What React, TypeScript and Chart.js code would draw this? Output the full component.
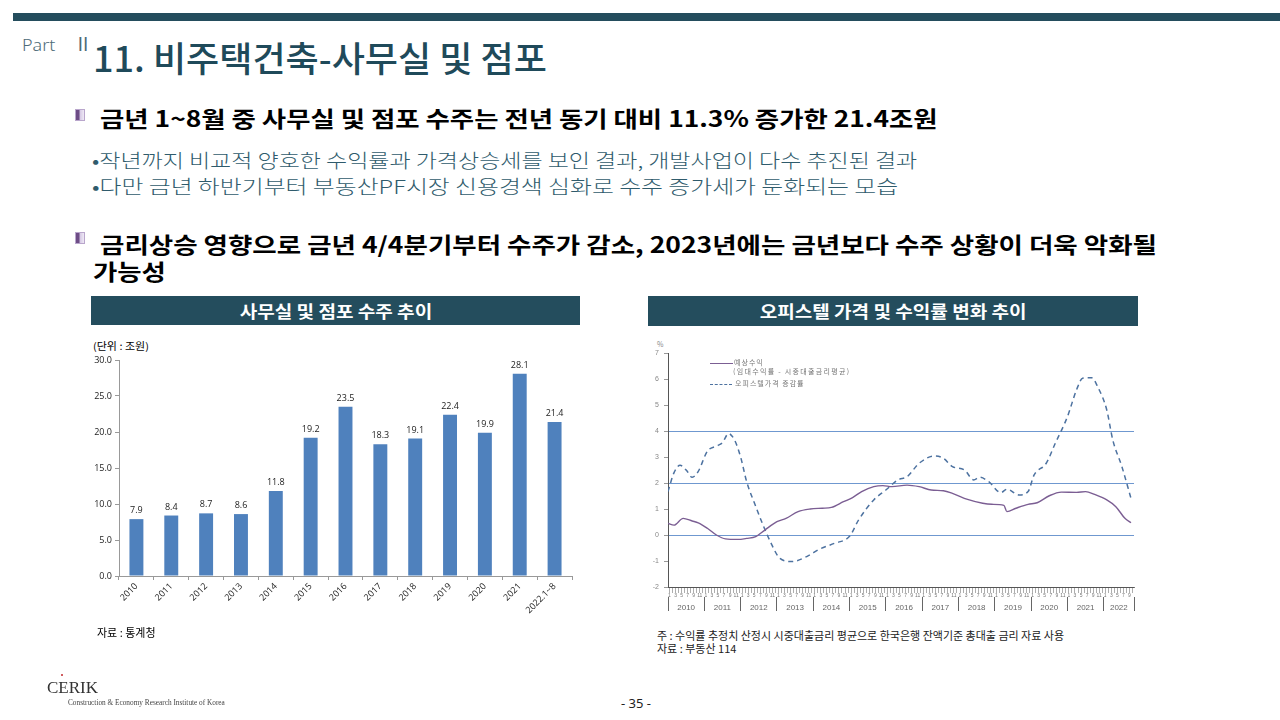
import React, { useEffect, useRef } from 'react';
import { Chart, registerables } from 'chart.js';

Chart.register(...registerables);

// ---------- Left chart: 사무실 및 점포 수주 추이 (조원) ----------
const barCategories = ['2010', '2011', '2012', '2013', '2014', '2015', '2016', '2017', '2018', '2019', '2020', '2021', '2022.1~8'];
const barValues = [7.9, 8.4, 8.7, 8.6, 11.8, 19.2, 23.5, 18.3, 19.1, 22.4, 19.9, 28.1, 21.4];

// ---------- Right chart: 오피스텔 가격 및 수익률 변화 추이 (%) ----------
// x = months elapsed since Jan 2010
const yearLabels = ['2010', '2011', '2012', '2013', '2014', '2015', '2016', '2017', '2018', '2019', '2020', '2021', '2022'];
const monthLabelsOdd = ['1', '3', '5', '7', '9', '11'];
const expectedMonths = [0, 2, 5, 8, 10, 13, 16, 19, 23, 26, 29, 32, 36, 39, 43, 47, 51, 54, 58, 61, 64, 68, 71, 74, 79, 83, 87, 91, 94, 99, 104, 107, 111, 112, 115, 119, 122, 126, 130, 135, 138, 141, 145, 148, 151, 153];
const expectedValues = [0.45, 0.38, 0.64, 0.54, 0.47, 0.26, 0.0, -0.15, -0.17, -0.13, -0.06, 0.19, 0.51, 0.64, 0.9, 1.0, 1.03, 1.06, 1.28, 1.44, 1.67, 1.86, 1.9, 1.86, 1.92, 1.86, 1.73, 1.7, 1.6, 1.37, 1.22, 1.18, 1.14, 0.9, 1.03, 1.18, 1.24, 1.51, 1.65, 1.64, 1.67, 1.56, 1.35, 1.09, 0.64, 0.47];
const priceMonths = [0, 2, 4, 6, 8, 10, 13, 16, 18, 20, 22, 24, 26, 29, 31, 34, 37, 41, 46, 50, 55, 60, 63, 68, 72, 76, 79, 83, 88, 91, 94, 98, 101, 103, 106, 110, 112, 116, 119, 121, 125, 128, 132, 135, 137, 140, 142, 145, 147, 150, 153];
const priceValues = [1.67, 2.4, 2.68, 2.5, 2.22, 2.45, 3.22, 3.42, 3.55, 3.9, 3.65, 3.0, 2.05, 1.1, 0.5, -0.3, -0.9, -1.02, -0.82, -0.55, -0.32, -0.05, 0.58, 1.35, 1.73, 2.12, 2.24, 2.76, 3.04, 2.95, 2.63, 2.5, 2.12, 2.22, 2.05, 1.63, 1.76, 1.54, 1.67, 2.31, 2.76, 3.53, 4.55, 5.58, 6.03, 6.05, 5.7, 4.81, 3.65, 2.63, 1.41];
const referenceLevels = [0, 2, 4];
const lastMonth = 154;

const KR = '"Noto Sans CJK KR", "Noto Sans", sans-serif';

function BarChart() {
  const ref = useRef<HTMLCanvasElement>(null);
  useEffect(() => {
    const labelPlugin = {
      id: 'barValueLabels',
      afterDatasetsDraw(chart: any) {
        const { ctx } = chart;
        const meta = chart.getDatasetMeta(0);
        ctx.save();
        ctx.font = '9px "Open Sans", sans-serif';
        ctx.fillStyle = '#222';
        ctx.textAlign = 'center';
        ctx.textBaseline = 'bottom';
        meta.data.forEach((el: any, i: number) => {
          ctx.fillText(barValues[i].toFixed(1), el.x, el.y - 4);
        });
        ctx.restore();
      },
    };
    const chart = new Chart(ref.current!, {
      type: 'bar',
      data: {
        labels: barCategories,
        datasets: [{ data: barValues, backgroundColor: '#4f81bd', barPercentage: 0.4, categoryPercentage: 1 }],
      },
      options: {
        responsive: false,
        animation: false,
        layout: { padding: { top: 10, right: 8, left: 0, bottom: 0 } },
        plugins: { legend: { display: false }, tooltip: { enabled: false } },
        scales: {
          x: {
            grid: { drawOnChartArea: false, tickLength: 4, color: '#999' },
            border: { color: '#999' },
            ticks: { minRotation: 45, maxRotation: 45, autoSkip: false, color: '#222', padding: 1, font: { size: 9, family: '"Open Sans", sans-serif' } },
            afterFit: (s: any) => { s.height = 50; },
          },
          y: {
            min: 0,
            max: 30,
            ticks: { stepSize: 5, color: '#222', padding: 3, callback: (v: any) => Number(v).toFixed(1), font: { size: 9, family: '"Open Sans", sans-serif' } },
            grid: { drawOnChartArea: false, tickLength: 4, color: '#999' },
            border: { color: '#999' },
            afterFit: (s: any) => { s.width = 34; },
          },
        },
      },
      plugins: [labelPlugin],
    });
    return () => chart.destroy();
  }, []);
  return <canvas ref={ref} width={495} height={276} style={{ position: 'absolute', left: 85, top: 350 }} />;
}

function LineChart() {
  const ref = useRef<HTMLCanvasElement>(null);
  useEffect(() => {
    const monthTicks: number[] = [];
    for (let i = 0; i < lastMonth; i++) monthTicks.push(i + 0.5);
    const boundaries: number[] = [];
    for (let i = 0; i < yearLabels.length; i++) boundaries.push(i * 12);
    boundaries.push(lastMonth);
    const centers = yearLabels.map((_, i) => (boundaries[i] + boundaries[i + 1]) / 2);
    const yearTicks = [...boundaries, ...centers].sort((a, b) => a - b);

    const chart = new Chart(ref.current!, {
      type: 'line',
      data: {
        datasets: [
          {
            label: '예상수익',
            data: expectedMonths.map((m, i) => ({ x: m, y: expectedValues[i] })),
            borderColor: '#7b5e93',
            borderWidth: 1.4,
            pointRadius: 0,
            cubicInterpolationMode: 'monotone',
          },
          {
            label: '오피스텔가격 증감률',
            data: priceMonths.map((m, i) => ({ x: m, y: priceValues[i] })),
            borderColor: '#4d72a0',
            borderWidth: 1.5,
            borderDash: [5, 4],
            pointRadius: 0,
            cubicInterpolationMode: 'monotone',
          },
        ],
      },
      options: {
        responsive: false,
        animation: false,
        layout: { padding: { top: 10, right: 6, left: 0, bottom: 0 } },
        plugins: { legend: { display: false }, tooltip: { enabled: false } },
        scales: {
          x: {
            type: 'linear',
            position: 'bottom',
            min: 0,
            max: lastMonth,
            afterBuildTicks: (s: any) => { s.ticks = monthTicks.map((v) => ({ value: v })); },
            ticks: {
              autoSkip: false,
              maxRotation: 0,
              minRotation: 0,
              padding: 0,
              color: '#777',
              font: { size: 5 },
              callback: (v: any) => {
                const i = Math.floor(Number(v)) % 12;
                return i % 2 === 0 ? monthLabelsOdd[i / 2] : '';
              },
            },
            grid: { drawOnChartArea: false, tickLength: 6, color: '#777', lineWidth: 0.6 },
            border: { color: '#555' },
            afterFit: (s: any) => { s.height = 10; },
          },
          xYear: {
            type: 'linear',
            position: 'bottom',
            min: 0,
            max: lastMonth,
            afterBuildTicks: (s: any) => { s.ticks = yearTicks.map((v) => ({ value: v })); },
            ticks: {
              autoSkip: false,
              maxRotation: 0,
              minRotation: 0,
              padding: -8,
              color: '#666',
              font: { size: 8 },
              callback: (v: any) => {
                const idx = centers.indexOf(Number(v));
                return idx >= 0 ? yearLabels[idx] : '';
              },
            },
            grid: {
              drawOnChartArea: false,
              tickLength: 14,
              tickColor: (c: any) => (c.tick && boundaries.includes(c.tick.value) ? '#666' : 'rgba(0,0,0,0)'),
            },
            border: { display: false },
            afterFit: (s: any) => { s.height = 18; },
          },
          y: {
            min: -2,
            max: 7,
            ticks: { stepSize: 1, color: '#888', padding: 5, font: { size: 7 } },
            grid: {
              tickLength: 4,
              tickColor: '#999',
              lineWidth: 1,
              color: (c: any) => (c.tick && referenceLevels.includes(c.tick.value) ? '#6f98d0' : 'rgba(0,0,0,0)'),
            },
            border: { color: '#555' },
            afterFit: (s: any) => { s.width = 28; },
          },
        },
      },
    });
    return () => chart.destroy();
  }, []);
  return <canvas ref={ref} width={500} height={272} style={{ position: 'absolute', left: 640, top: 343 }} />;
}

function T(props: { x: number; y: number; size: number; sx?: number; children: any; style?: any }) {
  return (
    <div
      style={{
        position: 'absolute',
        left: props.x,
        top: props.y - props.size * 0.7,
        fontSize: props.size,
        lineHeight: `${props.size * 1.4}px`,
        whiteSpace: 'nowrap',
        transform: props.sx ? `scaleX(${props.sx})` : undefined,
        transformOrigin: 'left center',
        ...props.style,
      }}
    >
      {props.children}
    </div>
  );
}

function BulletIcon({ x, y }: { x: number; y: number }) {
  return (
    <div
      style={{
        position: 'absolute',
        left: x,
        top: y,
        width: 10,
        height: 12,
        boxSizing: 'border-box',
        border: '1px solid #b9a6cc',
        background: 'linear-gradient(to right, #6d4c86 0%, #6d4c86 35%, #d8cce6 55%, #efe9f5 100%)',
      }}
    />
  );
}

function Header({ x, w, h, text }: { x: number; w: number; h: number; text: string }) {
  return (
    <div style={{ position: 'absolute', left: x, top: 296, width: w, height: h, background: '#244d5d', color: '#fff', fontWeight: 700, fontSize: 17, lineHeight: `${h}px`, textAlign: 'center' }}>
      <span style={{ display: 'inline-block', transform: 'scaleX(1.12)' }}>{text}</span>
    </div>
  );
}

export default function App() {
  return (
    <div
      style={{
        position: 'absolute',
        left: 0,
        top: 0,
        width: 1280,
        height: 720,
        background: '#fff',
        overflow: 'hidden',
        fontFamily: KR,
        color: '#000',
      }}
    >
      <div style={{ position: 'absolute', left: 13, top: 13, width: 1267, height: 8, background: '#244d5d' }} />
      <T x={22} y={45} size={16} sx={1.12} style={{ color: '#4d6b78', fontFamily: '"Noto Sans", sans-serif', fontWeight: 300 }}>Part</T>
      <T x={74} y={44} size={18} style={{ color: '#4d6b78', fontFamily: '"Noto Sans CJK KR", sans-serif', fontWeight: 400 }}>Ⅱ</T>
      <T x={93} y={56} size={35} sx={1.03} style={{ color: '#1f4a5a', fontWeight: 500 }}>11. 비주택건축-사무실 및 점포</T>

      <BulletIcon x={75} y={109} />
      <T x={100} y={117} size={22} sx={1.2} style={{ fontWeight: 700 }}>금년 1~8월 중 사무실 및 점포 수주는 전년 동기 대비 11.3% 증가한 21.4조원</T>
      <T x={92} y={160} size={19} sx={1.21} style={{ color: '#2f5b6c', fontWeight: 300 }}>•작년까지 비교적 양호한 수익률과 가격상승세를 보인 결과, 개발사업이 다수 추진된 결과</T>
      <T x={92} y={186} size={19} sx={1.255} style={{ color: '#2f5b6c', fontWeight: 300 }}>•다만 금년 하반기부터 부동산PF시장 신용경색 심화로 수주 증가세가 둔화되는 모습</T>

      <BulletIcon x={75} y={232} />
      <T x={100} y={243} size={22} sx={1.205} style={{ fontWeight: 700 }}>금리상승 영향으로 금년 4/4분기부터 수주가 감소, 2023년에는 금년보다 수주 상황이 더욱 악화될</T>
      <T x={93} y={270} size={22} sx={1.2} style={{ fontWeight: 700 }}>가능성</T>

      <Header x={91} w={489} h={29} text="사무실 및 점포 수주 추이" />
      <Header x={648} w={490} h={30} text="오피스텔 가격 및 수익률 변화 추이" />

      <T x={93} y={346} size={10} sx={1.1}>(단위 : 조원)</T>
      <BarChart />
      <T x={97} y={633} size={11}>자료 : 통계청</T>

      <T x={657} y={345} size={7} style={{ color: '#888' }}>%</T>
      <LineChart />
      <div style={{ position: 'absolute', left: 710, top: 363, width: 23, height: 0, borderTop: '1.4px solid #7b5e93' }} />
      <T x={734} y={363} size={7} style={{ color: '#777', letterSpacing: 1 }}>예상수익</T>
      <T x={733} y={372} size={7} style={{ color: '#777', letterSpacing: 1.3 }}>(임대수익률 - 시중대출금리평균)</T>
      <div style={{ position: 'absolute', left: 710, top: 384, width: 22, height: 0, borderTop: '1.5px dashed #4d72a0' }} />
      <T x={735} y={384} size={7} style={{ color: '#777', letterSpacing: 1 }}>오피스텔가격 증감률</T>

      <T x={657} y={636} size={11} style={{ color: '#222' }}>주 : 수익률 추정치 산정시 시중대출금리 평균으로 한국은행 잔액기준 총대출 금리 자료 사용</T>
      <T x={657} y={649} size={11} style={{ color: '#222' }}>자료 : 부동산 114</T>

      <div style={{ position: 'absolute', left: 61, top: 674, width: 2, height: 2, borderRadius: 1, background: '#c0272d' }} />
      <T x={47} y={688} size={17} style={{ fontFamily: '"Liberation Serif", serif', color: '#333' }}>CERIK</T>
      <T x={68} y={703} size={7.3} style={{ fontFamily: '"Liberation Serif", serif', color: '#444' }}>Construction &amp; Economy Research Institute of Korea</T>
      <T x={621} y={703} size={13} style={{ fontFamily: '"Noto Sans", sans-serif', color: '#222' }}>- 35 -</T>
    </div>
  );
}
